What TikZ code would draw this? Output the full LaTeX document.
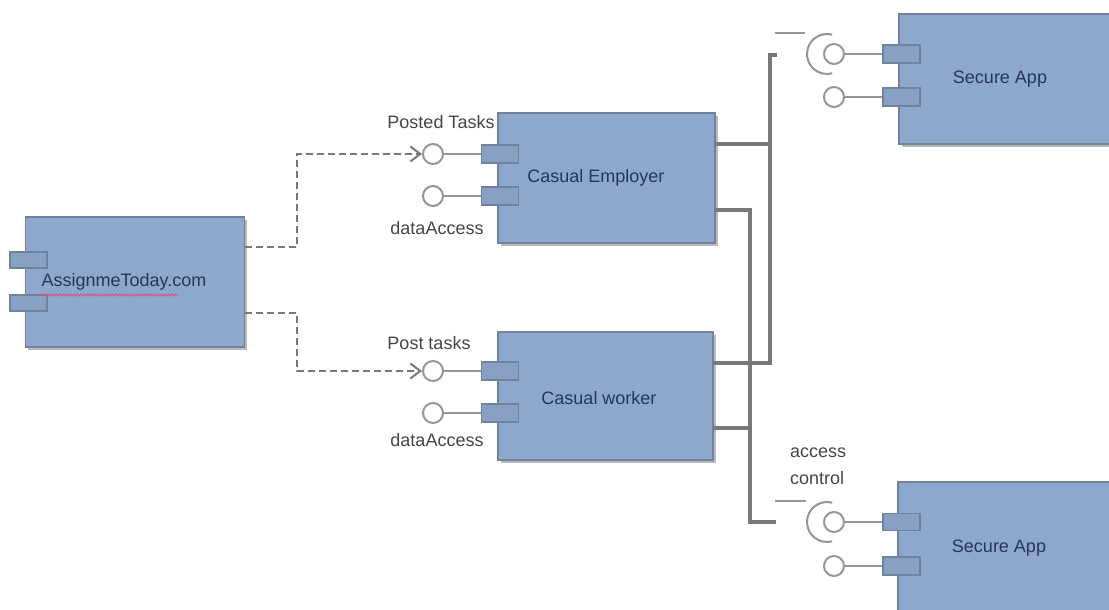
\documentclass[tikz,border=0pt]{standalone}
\usepackage{fontspec}
\setmainfont{Liberation Sans}
\usetikzlibrary{arrows.meta,shadows,decorations.pathmorphing}
\definecolor{boxfill}{RGB}{142,168,205}
\definecolor{boxline}{RGB}{112,130,156}
\definecolor{boxtext}{RGB}{40,55,85}
\definecolor{lbltext}{RGB}{70,70,70}
\definecolor{wirec}{RGB}{120,120,120}
\definecolor{lolc}{RGB}{150,150,150}
\definecolor{squig}{RGB}{205,90,130}
\tikzset{
  comp/.style={rectangle, draw=boxline, line width=1.4pt, fill=boxfill,
    drop shadow={shadow xshift=2.5pt, shadow yshift=-3pt, fill=black!45, opacity=0.6}},
  port/.style={rectangle, draw=boxline, line width=1.2pt, fill=boxfill!95!black,
    minimum width=37pt, minimum height=18pt, inner sep=0pt},
  lolly/.style={circle, draw=lolc, line width=2pt, fill=white, minimum size=20pt, inner sep=0pt},
  lolline/.style={draw=lolc, line width=2.6pt},
  wire/.style={draw=wirec, line width=3.4pt},
  dep/.style={draw=wirec, line width=2.8pt, dash pattern=on 7pt off 4pt,
    -{Straight Barb[length=10pt,width=15pt,line width=2pt]}},
  sock/.style={draw=lolc, line width=2pt},
  stub/.style={draw=lolc, line width=1.6pt},
  btxt/.style={text=boxtext, font=\fontsize{18}{21}\selectfont, inner sep=0pt},
  ltxt/.style={text=lbltext, font=\fontsize{18}{21}\selectfont, inner sep=0pt},
}
\begin{document}
\begin{tikzpicture}[x=1pt,y=-1pt]
\useasboundingbox (0,0) rectangle (1109,610);
\fill[white] (0,0) rectangle (1109,610);

% ---------- AssignmeToday.com ----------
\node[comp, minimum width=219pt, minimum height=130pt] (A) at (135,282) {};
\node[port, minimum height=16pt] (ap1) at (28.5,260) {};
\node[port, minimum height=16pt] (ap2) at (28.5,303) {};
\node[btxt] (atxt) at (124,282) {AssignmeToday.com};
\draw[squig, line width=1pt, decorate, decoration={snake, amplitude=1pt, segment length=3.5pt}]
  ([yshift=-13pt]atxt.west) -- ++(136,0);

% ---------- Casual Employer ----------
\node[comp, minimum width=217pt, minimum height=130pt] (E) at (606.5,178) {};
\node[port] (ep1) at (500,154) {};
\node[port] (ep2) at (500,196) {};
\node[btxt] at (596,178) {Casual Employer};
\node[lolly] (ec1) at (433,154) {};
\node[lolly] (ec2) at (433,196) {};
\draw[lolline] (ec1) -- (ep1);
\draw[lolline] (ec2) -- (ep2);
\node[ltxt] at (441,122) {Posted Tasks};
\node[ltxt] at (437,228) {dataAccess};

% ---------- Casual worker ----------
\node[comp, minimum width=215pt, minimum height=128pt] (W) at (605.5,396) {};
\node[port] (wp1) at (500,371) {};
\node[port] (wp2) at (500,413) {};
\node[btxt] at (599,398) {Casual worker};
\node[lolly] (wc1) at (433,371) {};
\node[lolly] (wc2) at (433,413) {};
\draw[lolline] (wc1) -- (wp1);
\draw[lolline] (wc2) -- (wp2);
\node[ltxt] at (429,343) {Post tasks};
\node[ltxt] at (437,440) {dataAccess};

% ---------- Secure App (top) ----------
\node[comp, minimum width=220pt, minimum height=130pt] (S1) at (1009,79) {};
\node[port] (sp1) at (901.5,54) {};
\node[port] (sp2) at (901.5,97) {};
\node[btxt] at (1000,79) {Secure App};
\node[lolly] (sc1) at (834,54) {};
\node[lolly] (sc2) at (834,97) {};
\draw[lolline] (sc1) -- (sp1);
\draw[lolline] (sc2) -- (sp2);
\draw[sock] ([xshift=-7pt]sc1.center) ++(75:20pt) arc[start angle=75, end angle=285, radius=20pt];
\coordinate (st1a) at (775,33);
\coordinate (st1b) at (805,33);
\draw[stub] (st1a) -- (st1b);

% ---------- Secure App (bottom) ----------
\node[comp, minimum width=220pt, minimum height=140pt] (S2) at (1008,552) {};
\node[port, minimum height=17pt] (sp3) at (901.5,522) {};
\node[port] (sp4) at (901.5,566) {};
\node[btxt] at (999,548) {Secure App};
\node[lolly] (sc3) at (834,522) {};
\node[lolly] (sc4) at (834,566) {};
\draw[lolline] (sc3) -- (sp3);
\draw[lolline] (sc4) -- (sp4);
\draw[sock] ([xshift=-7pt]sc3.center) ++(75:20pt) arc[start angle=75, end angle=285, radius=20pt];
\coordinate (st2a) at (775,501);
\coordinate (st2b) at (806,501);
\draw[stub] (st2a) -- (st2b);
\node[ltxt, anchor=north west, align=left, font=\fontsize{18}{27}\selectfont] at (790,448) {access\\control};

% ---------- dependencies (dashed) ----------
\coordinate (a1) at (245,247);
\coordinate (a2) at (245,313);
\draw[dep] (a1) -- ++(52,0) |- (ec1.west);
\draw[dep] (a2) -- ++(52,0) |- (wc1.west);

% ---------- assembly wires ----------
\coordinate (e1) at (715,144);
\coordinate (e2) at (715,210);
\coordinate (w1) at (713,363);
\coordinate (w2) at (713,428);
\coordinate (hubT) at (770,55);
\coordinate (endT) at (777,55);
\coordinate (hubB) at (750,522);
\coordinate (endB) at (776,522);
\draw[wire] (e1) -| (hubT) -- (endT);
\draw[wire] (w1) -| (hubT);
\draw[wire] (e2) -| (hubB) -- (endB);
\draw[wire] (w2) -| (hubB);
\end{tikzpicture}
\end{document}
